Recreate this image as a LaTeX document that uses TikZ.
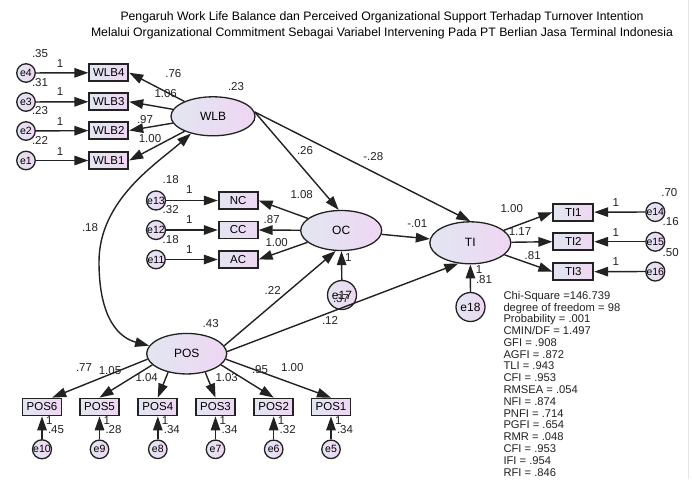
\documentclass[tikz,border=0pt]{standalone}
\usepackage{fontspec}
\setmainfont{Liberation Sans}
\usetikzlibrary{shapes.geometric,arrows.meta,calc}
\definecolor{fa}{HTML}{E2E6F1}
\definecolor{fb}{HTML}{EFD6F3}
\definecolor{ink}{HTML}{222222}
\newcommand{\myfs}[1]{\fontsize{#1}{#1}\selectfont}
\begin{document}
\begin{tikzpicture}[x=1pt,y=-1pt,
  >={Triangle[length=14pt,width=9.5pt]},
  lat/.style={ellipse, draw=ink, line width=1.3pt, left color=fa, right color=fb, minimum width=82pt, minimum height=40pt, inner sep=0pt, font=\myfs{12}},
  obs/.style={rectangle, draw=ink, line width=1.8pt, left color=fa, right color=fb, minimum width=39pt, minimum height=17pt, inner sep=0pt, font=\myfs{11.5}},
  err/.style={circle, draw=ink, line width=1.3pt, left color=fa, right color=fb, minimum size=18.5pt, inner sep=0pt, font=\myfs{10.5}},
  bigerr/.style={err, minimum size=29pt, font=\myfs{12}},
  lab/.style={inner sep=0pt, font=\myfs{11.5}, text=ink},
  stat/.style={inner sep=0pt, font=\myfs{11.2}, text=ink, anchor=base west},
  ttl/.style={inner sep=0pt, font=\myfs{12.25}},
  arr/.style={draw=ink, line width=1.4pt, ->}
]
\useasboundingbox (0,0) rectangle (692,479);
\fill[white] (0,0) rectangle (692,479);
\draw[black!10, line width=1pt] (688.5,0) -- (688.5,479);

% title
\node[ttl] (title1) at (382,17) {Pengaruh Work Life Balance dan Perceived Organizational Support Terhadap Turnover Intention};
\node[ttl] (title2) at (382,33) {Melalui Organizational Commitment Sebagai Variabel Intervening Pada PT Berlian Jasa Terminal Indonesia};

% latent variables
\node[lat, minimum width=84pt, minimum height=39pt] (WLB) at (213,116.3) {WLB};
\node[lat, minimum width=81pt] (OC) at (341.2,230.5) {OC};
\node[lat, minimum width=81pt, minimum height=42pt] (TI) at (470.3,242.8) {TI};
\node[lat, minimum width=80pt, minimum height=40.5pt] (POS) at (186.7,353.7) {POS};

% WLB indicators
\node[obs] (WLB4) at (108.8,72.7) {WLB4};
\node[obs] (WLB3) at (108.8,101.7) {WLB3};
\node[obs] (WLB2) at (108.8,130.5) {WLB2};
\node[obs] (WLB1) at (108.8,160.5) {WLB1};
\node[err] (e4) at (26,73) {e4};
\node[err] (e3) at (26,102) {e3};
\node[err] (e2) at (26,131) {e2};
\node[err] (e1) at (26,160.5) {e1};

% OC indicators
\node[obs] (NC) at (238.2,200.5) {NC};
\node[obs] (CC) at (238.2,230) {CC};
\node[obs] (AC) at (238.2,259.5) {AC};
\node[err] (e13) at (156,200.5) {e13};
\node[err] (e12) at (156,230) {e12};
\node[err] (e11) at (156,259.5) {e11};
\node[bigerr] (e17) at (342,295) {e17};

% TI indicators
\node[obs, minimum width=40pt] (TI1) at (573.3,212.2) {TI1};
\node[obs, minimum width=40pt] (TI2) at (573.3,241.7) {TI2};
\node[obs, minimum width=40pt] (TI3) at (573.3,271.7) {TI3};
\node[err] (e14) at (655.3,212) {e14};
\node[err] (e15) at (655.3,241.7) {e15};
\node[err] (e16) at (655.3,271.5) {e16};
\node[bigerr] (e18) at (470.5,307) {e18};

% POS indicators
\node[obs] (POS6) at (42,407) {POS6};
\node[obs] (POS5) at (99.5,407) {POS5};
\node[obs] (POS4) at (157.8,407) {POS4};
\node[obs] (POS3) at (215.5,407) {POS3};
\node[obs] (POS2) at (273.7,407) {POS2};
\node[obs] (POS1) at (331,407) {POS1};
\node[err] (e10) at (42,449.3) {e10};
\node[err] (e9) at (99.5,449.3) {e9};
\node[err] (e8) at (157.8,449.3) {e8};
\node[err] (e7) at (215.5,449.3) {e7};
\node[err] (e6) at (273.7,449.3) {e6};
\node[err] (e5) at (331,449.3) {e5};

% arrows: WLB measurement
\foreach \b/\e in {WLB4/e4,WLB3/e3,WLB2/e2,WLB1/e1}{
  \draw[arr] (\e) -- (\b);
  \draw[arr] (WLB) -- (\b.east);
}
% OC measurement
\foreach \b/\e in {NC/e13,CC/e12,AC/e11}{
  \draw[arr] (\e) -- (\b);
  \draw[arr] (OC) -- (\b.east);
}
\draw[arr] (e17) -- (OC);
% TI measurement
\foreach \b/\e in {TI1/e14,TI2/e15,TI3/e16}{
  \draw[arr] (\e) -- (\b);
  \draw[arr] (TI) -- (\b.west);
}
\draw[arr] (e18) -- (TI);
% POS measurement
\draw[arr] (POS.188) -- ($(POS6.north)!0.5!(POS6.north east)$);
\draw[arr] (POS.198) -- (POS5.north);
\draw[arr] (POS.225) -- (POS4.north);
\draw[arr] (POS.315) -- (POS3.north);
\draw[arr] (POS.342) -- (POS2.north);
\draw[arr] (POS.352) -- (POS1.north);
\foreach \b/\e in {POS6/e10,POS5/e9,POS4/e8,POS3/e7,POS2/e6,POS1/e5}{
  \draw[arr] (\e) -- (\b);
}
% structural
\draw[arr] (WLB.6) -- (OC.97);
\draw[arr] (WLB.6) -- (TI.north);
\draw[arr] (OC) -- (TI);
\draw[arr] (POS.12) -- (OC.255);
\draw[arr] (POS.3) -- (TI.240);
\draw[draw=ink, line width=1.4pt, <->] (WLB.218) .. controls (156.4,163.9) and (99,200) .. (99,262) .. controls (99,320) and (120,338) .. (POS.168);

% labels WLB
\node[lab] (l1) at (40,53.3) {.35};
\node[lab] (l2) at (40,82.3) {.31};
\node[lab] (l3) at (40,111) {.23};
\node[lab] (l4) at (40,140) {.22};
\node[lab] (l5) at (60,63.3) {1};
\node[lab] (l6) at (60,92) {1};
\node[lab] (l7) at (60,121.7) {1};
\node[lab] (l8) at (60,151.7) {1};
\node[lab] (l9) at (173.3,74) {.76};
\node[lab] (l10) at (165.7,93.3) {1.06};
\node[lab] (l11) at (145,119.3) {.97};
\node[lab] (l12) at (150,139) {1.00};
\node[lab] (l13) at (236,87) {.23};
% labels OC
\node[lab] (l14) at (170.7,179.3) {.18};
\node[lab] (l15) at (170.7,209.3) {.32};
\node[lab] (l16) at (170.7,239.3) {.18};
\node[lab] (l17) at (189.3,190) {1};
\node[lab] (l18) at (189.3,220) {1};
\node[lab] (l19) at (189.3,249.3) {1};
\node[lab] (l20) at (301.7,195) {1.08};
\node[lab] (l21) at (271.7,220) {.87};
\node[lab] (l22) at (276.7,242.7) {1.00};
\node[lab] (l23) at (348.3,257.7) {1};
\node[lab] (l24) at (341,298.3) {.37};
% structural labels
\node[lab] (l25) at (305,150.7) {.26};
\node[lab] (l26) at (373.3,156.7) {-.28};
\node[lab] (l27) at (417.3,224) {-.01};
\node[lab] (l28) at (272.7,290.7) {.22};
\node[lab] (l29) at (330,320.7) {.12};
\node[lab] (l30) at (90,228) {.18};
% labels TI
\node[lab] (l31) at (511.7,208.3) {1.00};
\node[lab] (l32) at (520,231.7) {1.17};
\node[lab] (l33) at (532.7,255.7) {.81};
\node[lab] (l34) at (615.7,202.7) {1};
\node[lab] (l35) at (615.7,232.7) {1};
\node[lab] (l36) at (615.7,261.7) {1};
\node[lab] (l37) at (669.3,192.3) {.70};
\node[lab] (l38) at (670.7,221.7) {.16};
\node[lab] (l39) at (670.7,252.3) {.50};
\node[lab] (l40) at (479,269.3) {1};
\node[lab] (l41) at (484,279.3) {.81};
% labels POS
\node[lab] (l42) at (210.7,324) {.43};
\node[lab] (l43) at (84,367.7) {.77};
\node[lab] (l44) at (110,370.7) {1.05};
\node[lab] (l45) at (146.7,377.3) {1.04};
\node[lab] (l46) at (226.7,377.3) {1.03};
\node[lab] (l47) at (260,370) {.95};
\node[lab] (l48) at (292.3,367.3) {1.00};
\foreach \x/\v [count=\i] in {42/.45,99.5/.28,157.8/.34,215.5/.34,273.7/.32,331/.34}{
  \node[lab] (o\i) at ({\x+7.3},420.7) {1};
  \node[lab] (v\i) at ({\x+14},429.3) {\v};
}

% fit statistics
\foreach \t [count=\i from 0] in {Chi-Square =146.739, degree of freedom = 98, Probability = .001, CMIN/DF = 1.497, GFI = .908, AGFI = .872, TLI = .943, CFI = .953, RMSEA = .054, NFI = .874, PNFI = .714, PGFI = .654, RMR = .048, CFI = .953, IFI = .954, RFI = .846}{
  \node[stat] (s\i) at (503.3,{299.3+11.78*\i}) {\t};
}
\end{tikzpicture}
\end{document}
